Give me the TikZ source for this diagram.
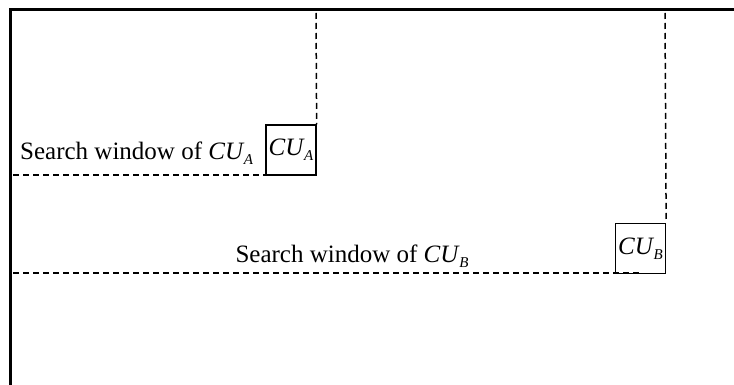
\documentclass[tikz,border=0pt]{standalone}
\usepackage{fontspec}
\setmainfont{Liberation Serif}
\newcommand{\cuname}[1]{\textit{CU}\kern-0.5pt\raisebox{-0.4ex}{\fontsize{15}{15}\selectfont\textit{#1}}}
\begin{document}
\begin{tikzpicture}[x=1pt,y=-1pt,
  frame/.style={line width=3pt},
  guide/.style={line width=1.5pt, dash pattern=on 6pt off 4pt},
  cubox/.style={draw, line width=1.3pt, minimum width=50pt, minimum height=50pt, inner sep=0pt, font=\fontsize{25}{27}\selectfont},
  lbl/.style={font=\fontsize{25}{27}\selectfont, inner sep=0pt}]
\useasboundingbox (0,0) rectangle (734,385);
% outer frame (top and left edges)
\draw[frame] (10,385) -- (10,10) -- (734,10);
% current blocks
\node[cubox] (cua) at (291,150) {\cuname{A}};
\node[cubox] (cub) at (640.5,248.5) {\cuname{B}};
% search window boundaries
\coordinate (ta) at (316,13);
\coordinate (la) at (13,175);
\coordinate (ea) at (291,175);
\coordinate (tb) at (665,13);
\coordinate (lb) at (13,273);
\coordinate (eb) at (640,273);
\draw[guide] (ta) -- (cua.north east);
\draw[guide] (la) -- (ea);
\draw[guide] (tb) -- (cub.north east);
\draw[guide] (lb) -- (eb);
% labels
\node[lbl, anchor=west] (swa) at (20,153) {Search window of \cuname{A}};
\node[lbl] (swb) at (352,256) {Search window of \cuname{B}};
\end{tikzpicture}
\end{document}
